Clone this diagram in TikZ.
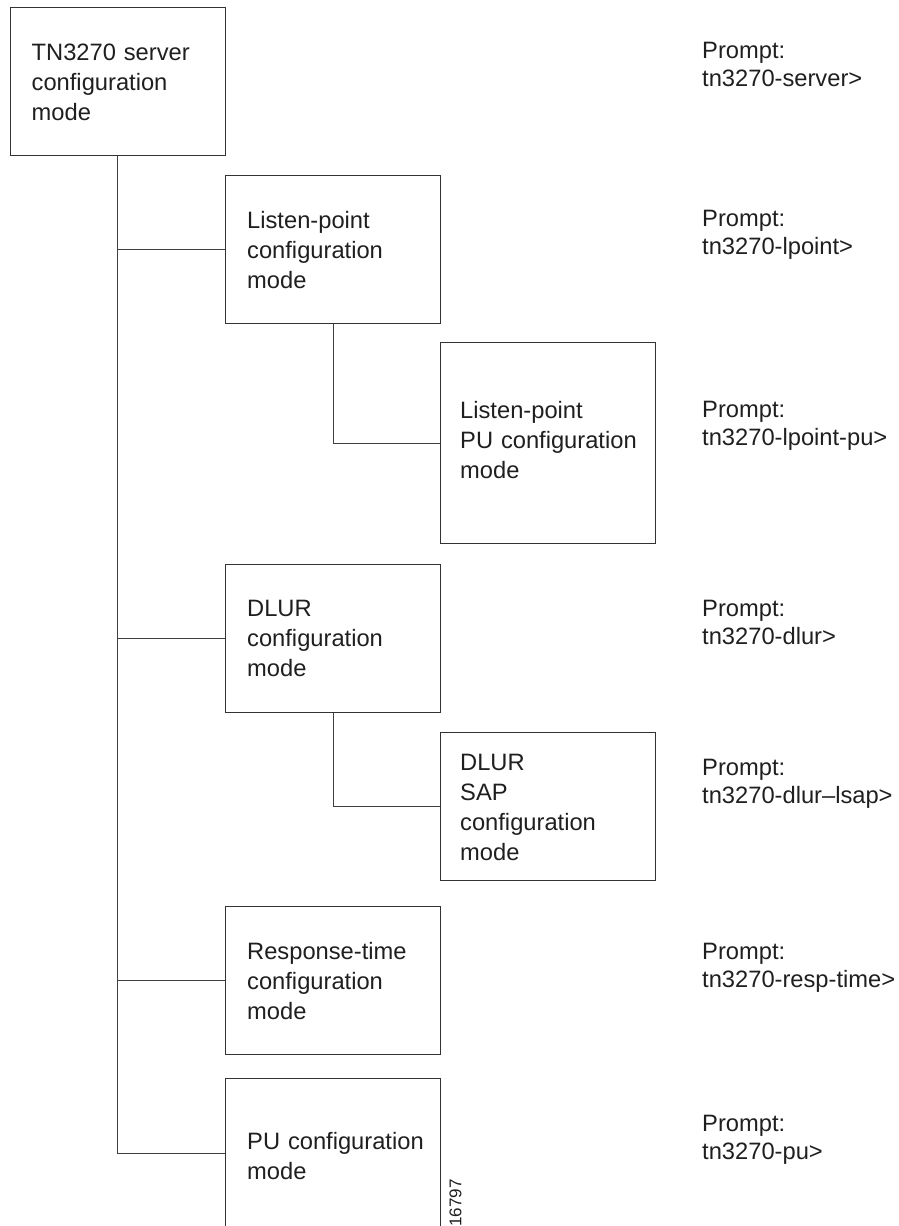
\documentclass[tikz,border=0pt]{standalone}
\usepackage{fontspec}
\setmainfont{Liberation Sans}
\begin{document}
\begin{tikzpicture}[x=1pt,y=-1pt,
  modebox/.style={draw=black!80, line width=1.2pt, rectangle, anchor=north west,
    inner sep=0pt, minimum width=215pt, minimum height=#1},
  boxtext/.style={anchor=west, inner sep=0pt, text=black!88,
    font=\fontsize{23.7}{30}\selectfont, align=left, text width=250pt},
  prompt/.style={anchor=base west, inner sep=0pt, text=black!88,
    font=\fontsize{23.7}{28.5}\selectfont, align=left, text width=250pt},
  conn/.style={draw=black!75, line width=1.2pt}
]
\useasboundingbox (0,0) rectangle (899,1226);

\node[modebox=148.5pt, minimum width=215.5pt] (tn) at (9.5,6.5) {};
\node[modebox=148pt] (lp) at (225,175) {};
\node[modebox=201pt] (lpu) at (440,342) {};
\node[modebox=148pt] (dlur) at (225,564) {};
\node[modebox=148pt] (sap) at (440,732) {};
\node[modebox=148pt] (rt) at (225,906) {};
\node[modebox=150pt] (pu) at (225,1078) {};

\node[boxtext] (tn-t) at ([xshift=22pt,yshift=-1pt]tn.west) {TN3270 server\\configuration\\mode};
\node[boxtext] (lp-t) at ([xshift=22pt]lp.west) {Listen-point\\configuration\\mode};
\node[boxtext] (lpu-t) at ([xshift=20pt,yshift=3pt]lpu.west) {Listen-point\\PU configuration\\mode};
\node[boxtext] (dlur-t) at ([xshift=22pt]dlur.west) {DLUR\\configuration\\mode};
\node[boxtext] (sap-t) at ([xshift=20pt,yshift=-1pt]sap.west) {DLUR\\SAP\\configuration\\mode};
\node[boxtext] (rt-t) at ([xshift=22pt]rt.west) {Response-time\\configuration\\mode};
\node[boxtext] (pu-t) at ([xshift=22pt,yshift=-2pt]pu.west) {PU configuration\\mode};

\draw[conn] (tn.south) |- (pu.west);
\draw[conn] (tn.south |- lp.west) -- (lp.west);
\draw[conn] (tn.south |- dlur.west) -- (dlur.west);
\draw[conn] (tn.south |- rt.west) -- (rt.west);
\draw[conn] (lp.south) |- (lpu.west);
\draw[conn] (dlur.south) |- (sap.west);

\node[prompt] (p1) at (702,58) {Prompt:\\tn3270-server>};
\node[prompt] (p2) at (702,226) {Prompt:\\tn3270-lpoint>};
\node[prompt] (p3) at (702,417) {Prompt:\\tn3270-lpoint-pu>};
\node[prompt] (p4) at (702,616) {Prompt:\\tn3270-dlur>};
\node[prompt] (p5) at (702,775) {Prompt:\\tn3270-dlur–lsap>};
\node[prompt] (p6) at (702,959) {Prompt:\\tn3270-resp-time>};
\node[prompt] (p7) at (702,1131) {Prompt:\\tn3270-pu>};

\node[rotate=90, inner sep=0pt, text=black!88, font=\fontsize{17}{17}\selectfont] (fig) at (455.5,1203) {16797};
\end{tikzpicture}
\end{document}
